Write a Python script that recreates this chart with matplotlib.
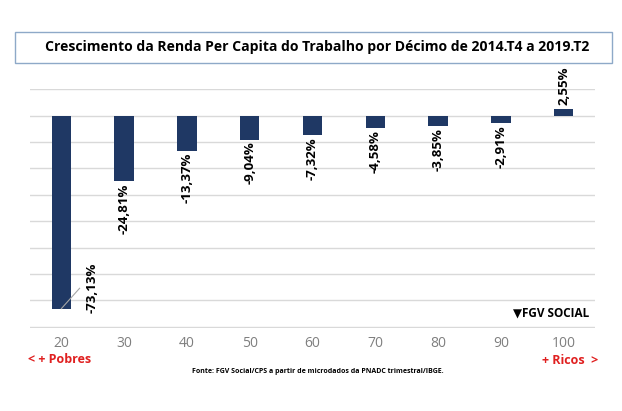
import matplotlib.pyplot as plt
import numpy as np
from matplotlib.patches import Rectangle

# dados
decis = ['20', '30', '40', '50', '60', '70', '80', '90', '100']
valores = [-73.13, -24.81, -13.37, -9.04, -7.32, -4.58, -3.85, -2.91, 2.55]
rotulos = ['-73,13%', '-24,81%', '-13,37%', '-9,04%', '-7,32%', '-4,58%', '-3,85%', '-2,91%', '2,55%']

plt.rcParams['font.family'] = ['Open Sans', 'DejaVu Sans']

fig = plt.figure(figsize=(6.22, 4.11), dpi=100)
W, H = 622, 411
ax = fig.add_axes([30 / W, 1 - 327.5 / H, (595 - 30) / W, (327.5 - 89.3) / H])

x = np.arange(len(decis))
ax.bar(x, valores, width=0.31, color='#1F3864', zorder=3)

ax.set_xlim(-0.5, len(decis) - 0.5)
ax.set_ylim(-80.3, 10)
ax.set_yticks(np.arange(-80, 11, 10))
ax.grid(axis='y', color='#D9D9D9', linewidth=1, zorder=0)
ax.tick_params(axis='both', length=0)
ax.set_yticklabels([])
ax.set_xticks(x)
ax.set_xticklabels(decis, color='#7F7F7F', fontsize=10)
ax.tick_params(axis='x', pad=6)
for s in ax.spines.values():
    s.set_visible(False)

# rótulos das barras
for i, (v, r) in enumerate(zip(valores, rotulos)):
    if i == 0:
        ax.text(i + 0.485, v + 7.7, r, rotation=90, ha='center', va='center',
                fontsize=9.5, fontweight='bold', color='black')
        ax.plot([i, i + 0.29], [v, v + 7.7], color='#A6A6A6', linewidth=0.8, zorder=4)
    elif v < 0:
        ax.text(i, v - 0.8, r, rotation=90, ha='center', va='top',
                fontsize=9.5, fontweight='bold', color='black')
    else:
        ax.text(i, v + 1.5, r, rotation=90, ha='center', va='bottom',
                fontsize=9.5, fontweight='bold', color='black', clip_on=False)

# título em caixa
fig.patches.append(Rectangle((15 / W, 1 - 63 / H), (612 - 15) / W, 31 / H,
                             transform=fig.transFigure, fill=False,
                             edgecolor='#8EA9C8', linewidth=1))
fig.text(317 / W, 1 - 47 / H,
         'Crescimento da Renda Per Capita do Trabalho por Décimo de 2014.T4 a 2019.T2',
         ha='center', va='center', fontsize=10.1, fontweight='bold', color='black')

# logo
fig.text(589 / W, 1 - 313 / H, '\u25BCFGV SOCIAL', ha='right', va='center',
         fontsize=8.5, fontweight='bold', color='black')

# extremos
fig.text(28 / W, 1 - 359 / H, '< + Pobres', ha='left', va='center',
         fontsize=9, fontweight='bold', color='#E02020')
fig.text(598 / W, 1 - 360 / H, '+ Ricos  >', ha='right', va='center',
         fontsize=9, fontweight='bold', color='#E02020')

fig.text(318 / W, 1 - 371 / H,
         'Fonte: FGV Social/CPS a partir de microdados da PNADC trimestral/IBGE.',
         ha='center', va='center', fontsize=5, fontweight='bold', color='black')

fig.savefig('out.png', dpi=100, facecolor='white')
